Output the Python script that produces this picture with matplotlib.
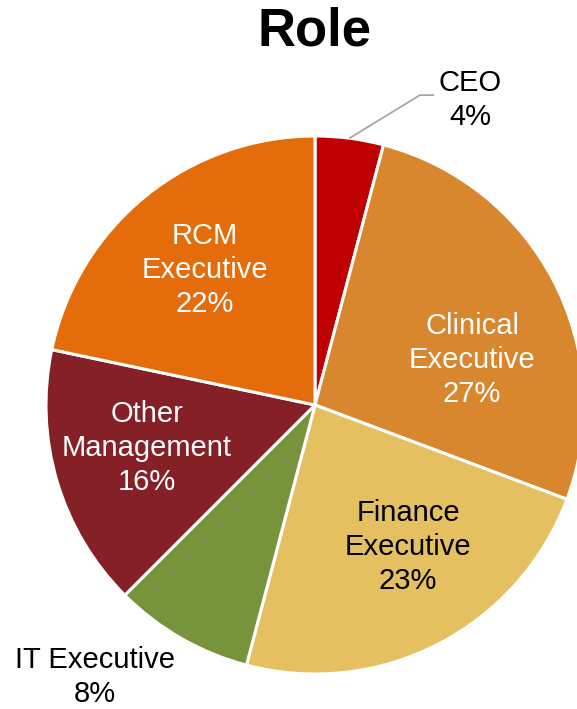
import matplotlib
matplotlib.use("Agg")
from matplotlib import pyplot as plt

plt.rcParams['font.family'] = ['Liberation Sans', 'DejaVu Sans']

roles = ['CEO', 'Clinical\nExecutive', 'Finance\nExecutive', 'IT Executive',
         'Other\nManagement', 'RCM\nExecutive']
shares = [4.1, 26.6, 23.4, 8.4, 15.8, 21.7]
pct_labels = ['4%', '27%', '23%', '8%', '16%', '22%']
colors = ['#C00000', '#D9872E', '#E4C061', '#77933C', '#842026', '#E46C0A']
text_colors = ['black', 'white', 'black', 'black', 'white', 'white']
# label centres in axes data units (pie radius = 1)
label_pos = [(0.576, 1.134), (0.584, 0.167), (0.346, -0.528), (-0.818, -1.011),
             (-0.625, -0.160), (-0.409, 0.502)]

fig = plt.figure(figsize=(5.77, 7.09), dpi=100)
ax = fig.add_axes([46 / 577, 35 / 709, 538 / 577, 538 / 709])

ax.pie(shares, colors=colors, startangle=90, counterclock=False,
       wedgeprops=dict(edgecolor='white', linewidth=2.2))
ax.set_xlim(-1, 1)
ax.set_ylim(-1, 1)
ax.set_aspect('auto')
ax.axis('off')

for name, pct, pos, tc in zip(roles, pct_labels, label_pos, text_colors):
    ax.text(pos[0], pos[1], f"{name}\n{pct}", ha='center', va='center',
            fontsize=21, color=tc, linespacing=1.27, clip_on=False)

# leader line for CEO
ax.plot([0.130, 0.390, 0.439], [0.993, 1.152, 1.152], color='#A6A6A6',
        lw=1.3, clip_on=False)

fig.text(315 / 577, 1 - 31 / 709, 'Role', ha='center', va='center',
         fontsize=38, fontweight='bold')

fig.savefig('out.png', dpi=100)
